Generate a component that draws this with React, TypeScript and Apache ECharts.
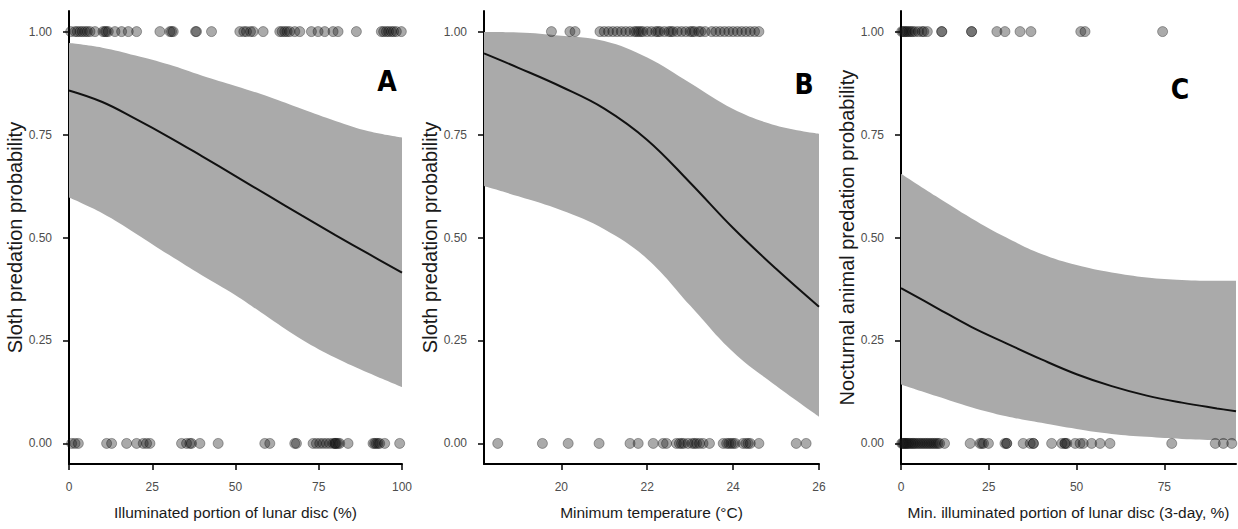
import React, { useEffect, useRef } from "react";
import * as echarts from "echarts";

// ---------- Panel A: Illuminated portion of lunar disc (%) ----------
const aCurveX = [0, 10, 20, 30, 40, 50, 60, 70, 80, 90, 100];
const aFit = [0.857, 0.829, 0.788, 0.744, 0.697, 0.649, 0.601, 0.553, 0.506, 0.46, 0.415];
const aUpper = [0.972, 0.961, 0.942, 0.92, 0.893, 0.868, 0.842, 0.812, 0.783, 0.758, 0.743];
const aLower = [0.597, 0.559, 0.51, 0.458, 0.408, 0.36, 0.305, 0.252, 0.208, 0.171, 0.137];
const aEvents = [0.5, 1.8, 2.5, 3.3, 4.0, 4.8, 5.5, 6.3, 7.8, 10.2, 10.8, 11.2, 11.8, 13.8, 15.8, 17.8, 20.3, 27.3, 30.3, 30.8, 31.3, 38.0, 38.3, 42.8, 51.3, 52.5, 53.3, 54.5, 55.3, 58.3, 63.3, 64.0, 64.8, 65.5, 66.3, 67.8, 69.3, 72.8, 74.8, 76.8, 79.3, 80.8, 86.3, 93.8, 94.5, 95.3, 96.0, 96.8, 97.5, 98.3, 99.8];
const aNonEvents = [0.8, 1.8, 2.8, 11.3, 12.8, 17.3, 20.3, 22.3, 23.3, 24.3, 33.8, 35.3, 36.3, 36.8, 39.3, 44.8, 58.8, 60.3, 67.8, 68.3, 73.3, 74.3, 75.3, 76.3, 77.3, 78.3, 79.3, 79.8, 80.0, 80.3, 80.8, 81.3, 83.8, 91.3, 91.8, 92.3, 92.8, 93.3, 94.8, 99.3];

// ---------- Panel B: Minimum temperature (°C) ----------
const bCurveX = [18.2, 19, 20, 21, 22, 23, 24, 25, 26];
const bFit = [0.947, 0.912, 0.866, 0.813, 0.737, 0.633, 0.523, 0.424, 0.332];
const bUpper = [0.999, 0.998, 0.99, 0.977, 0.937, 0.875, 0.812, 0.772, 0.752];
const bLower = [0.625, 0.6, 0.566, 0.52, 0.448, 0.335, 0.222, 0.14, 0.065];
const bEvents = [19.77, 20.2, 20.32, 20.9, 21.0, 21.1, 21.2, 21.3, 21.4, 21.5, 21.6, 21.7, 21.75, 21.8, 21.85, 21.9, 22.0, 22.1, 22.2, 22.25, 22.3, 22.4, 22.5, 22.55, 22.6, 22.7, 22.8, 22.9, 23.0, 23.05, 23.1, 23.2, 23.25, 23.35, 23.5, 23.6, 23.7, 23.8, 23.9, 24.0, 24.1, 24.2, 24.3, 24.4, 24.5, 24.6];
const bNonEvents = [18.52, 19.56, 20.16, 20.88, 21.6, 21.79, 22.14, 22.37, 22.45, 22.68, 22.75, 22.8, 22.85, 22.95, 23.05, 23.1, 23.15, 23.22, 23.3, 23.45, 23.77, 23.85, 23.9, 23.95, 24.0, 24.05, 24.23, 24.3, 24.35, 24.4, 24.6, 25.47, 25.7];

// ---------- Panel C: Min. illuminated portion of lunar disc (3-day, %) ----------
const cCurveX = [0, 10, 20, 30, 40, 50, 60, 70, 80, 90, 95.4];
const cFit = [0.377, 0.33, 0.283, 0.243, 0.204, 0.168, 0.139, 0.116, 0.099, 0.085, 0.078];
const cUpper = [0.655, 0.6, 0.547, 0.5, 0.46, 0.433, 0.415, 0.403, 0.397, 0.395, 0.395];
const cLower = [0.143, 0.115, 0.088, 0.066, 0.05, 0.035, 0.023, 0.016, 0.011, 0.008, 0.007];
const cEvents = [0.2, 0.6, 1.0, 1.4, 1.8, 2.3, 2.8, 3.3, 4.0, 5.0, 6.0, 6.5, 7.5, 11.6, 11.6, 20.1, 20.1, 27.3, 29.6, 33.9, 37.0, 51.2, 52.4, 74.5];
const cNonEvents = [0.2, 0.5, 0.8, 1.1, 1.4, 1.7, 2.0, 2.4, 2.8, 3.2, 3.6, 4.0, 4.5, 5.0, 5.5, 6.0, 6.5, 7.0, 7.5, 8.0, 8.5, 9.0, 9.5, 10.0, 10.5, 11.0, 12.4, 19.7, 22.5, 23.0, 23.5, 24.9, 29.6, 30.1, 30.1, 34.8, 36.8, 37.7, 37.7, 42.9, 45.8, 46.7, 46.7, 47.2, 49.6, 51.0, 51.9, 54.3, 56.7, 59.5, 77.1, 89.5, 91.8, 94.2];

const yTicks = [0, 0.25, 0.5, 0.75, 1];
const aXTicks = [0, 25, 50, 75, 100];
const bXTicks = [20, 22, 24, 26];
const cXTicks = [0, 25, 50, 75];

const panelLetters = ["A", "B", "C"];
const xTitles = [
  "Illuminated portion of lunar disc (%)",
  "Minimum temperature (°C)",
  "Min. illuminated portion of lunar disc (3-day, %)",
];
const yTitles = [
  "Sloth predation probability",
  "Sloth predation probability",
  "Nocturnal animal predation probability",
];

const SANS = "'Liberation Sans', Arial, sans-serif";
const LETTER = "'DejaVu Sans Condensed', Lato, 'Liberation Sans', sans-serif";

export default function App() {
  const ref = useRef<HTMLDivElement>(null);

  useEffect(() => {
    if (!ref.current) return;
    const chart = echarts.init(ref.current, undefined, { renderer: "svg" });

    const panels = [
      { x: aCurveX, fit: aFit, up: aUpper, lo: aLower, ev: aEvents, ne: aNonEvents, min: 0, max: 100, ticks: aXTicks, left: 69, width: 333 },
      { x: bCurveX, fit: bFit, up: bUpper, lo: bLower, ev: bEvents, ne: bNonEvents, min: 18.2, max: 26, ticks: bXTicks, left: 484, width: 335 },
      { x: cCurveX, fit: cFit, up: cUpper, lo: cLower, ev: cEvents, ne: cNonEvents, min: 0, max: 95.4, ticks: cXTicks, left: 901, width: 335 },
    ];

    const grids: any[] = [];
    const xAxes: any[] = [];
    const yAxes: any[] = [];
    const series: any[] = [];
    const SMOOTH = 0.4;

    panels.forEach((p, i) => {
      grids.push({ left: p.left, top: 11, width: p.width, height: 453, containLabel: false });
      xAxes.push({
        type: "value",
        gridIndex: i,
        min: p.min,
        max: p.max,
        name: xTitles[i],
        nameLocation: "middle",
        nameGap: 40,
        nameTextStyle: { fontFamily: SANS, fontSize: 15.5, color: "#1a1a1a" },
        axisLine: { show: true, onZero: false, lineStyle: { color: "#000", width: 2 } },
        axisTick: { show: true, length: 6, customValues: p.ticks, lineStyle: { color: "#000", width: 1.5 } },
        axisLabel: { customValues: p.ticks, margin: 17, fontFamily: SANS, fontSize: 12, color: "#4d4d4d" },
        splitLine: { show: false },
      });
      yAxes.push({
        type: "value",
        gridIndex: i,
        min: -0.05,
        max: 1.05,
        name: yTitles[i],
        nameLocation: "middle",
        nameGap: 27,
        nameRotate: 90,
        nameTextStyle: { fontFamily: SANS, fontSize: 20, color: "#1a1a1a" },
        axisLine: { show: true, lineStyle: { color: "#000", width: 2 } },
        axisTick: { show: true, length: 6, customValues: yTicks, lineStyle: { color: "#000", width: 1.5 } },
        axisLabel: {
          customValues: yTicks,
          margin: 17,
          fontFamily: SANS,
          fontSize: 12,
          color: "#4d4d4d",
          formatter: (v: number) => v.toFixed(2),
        },
        splitLine: { show: false },
      });

      // Confidence band: data stored as [y, x] so the stack happens on y.
      const stackId = "band" + i;
      series.push({
        type: "line",
        xAxisIndex: i,
        yAxisIndex: i,
        data: p.x.map((x, k) => [p.lo[k], x]),
        encode: { x: 1, y: 0 },
        stack: stackId,
        symbol: "none",
        smooth: SMOOTH,
        lineStyle: { opacity: 0 },
        silent: true,
        z: 1,
      });
      series.push({
        type: "line",
        xAxisIndex: i,
        yAxisIndex: i,
        data: p.x.map((x, k) => [p.up[k] - p.lo[k], x]),
        encode: { x: 1, y: 0 },
        stack: stackId,
        symbol: "none",
        smooth: SMOOTH,
        lineStyle: { opacity: 0 },
        areaStyle: { color: "#aaaaaa", opacity: 1 },
        silent: true,
        z: 1,
      });
      series.push({
        type: "line",
        xAxisIndex: i,
        yAxisIndex: i,
        data: p.x.map((x, k) => [x, p.fit[k]]),
        symbol: "none",
        smooth: SMOOTH,
        lineStyle: { color: "#111", width: 2 },
        z: 3,
      });
      const dotStyle = {
        color: "rgba(30,30,30,0.47)",
        borderColor: "rgba(0,0,0,0.4)",
        borderWidth: 1,
      };
      series.push({
        type: "scatter",
        xAxisIndex: i,
        yAxisIndex: i,
        data: p.ev.map((x) => [x, 1]),
        symbolSize: 10,
        itemStyle: dotStyle,
        clip: false,
        z: 4,
      });
      series.push({
        type: "scatter",
        xAxisIndex: i,
        yAxisIndex: i,
        data: p.ne.map((x) => [x, 0]),
        symbolSize: 10,
        itemStyle: dotStyle,
        clip: false,
        z: 4,
      });
    });

    const letterPos = [
      [387, 81],
      [804, 84],
      [1180, 89],
    ];

    chart.setOption({
      animation: false,
      backgroundColor: "#ffffff",
      grid: grids,
      xAxis: xAxes,
      yAxis: yAxes,
      series,
      graphic: panelLetters.map((t, i) => ({
        type: "text",
        x: letterPos[i][0],
        y: letterPos[i][1],
        style: {
          text: t,
          fontFamily: LETTER,
          fontWeight: "bold",
          fontSize: 28,
          fill: "#000",
          align: "center",
          verticalAlign: "middle",
        },
        z: 10,
      })),
    });

    return () => chart.dispose();
  }, []);

  return (
    <div
      ref={ref}
      style={{ position: "absolute", left: 0, top: 0, width: 1238, height: 529 }}
    />
  );
}
